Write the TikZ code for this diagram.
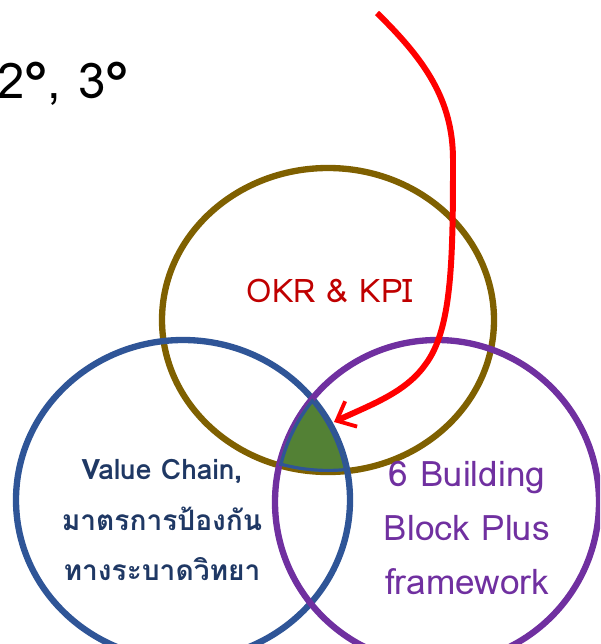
\documentclass[tikz,border=0pt]{standalone}
\usepackage{fontspec}
\setmainfont{Loma}
\newfontfamily\thaifont[Script=Thai]{Loma}
\usepackage{tikz}
\usetikzlibrary{arrows.meta,positioning}

\definecolor{okrbrown}{HTML}{7F6000}
\definecolor{chainblue}{HTML}{2F5597}
\definecolor{chaintext}{HTML}{1F3864}
\definecolor{blockpurple}{HTML}{7030A0}
\definecolor{coregreen}{HTML}{538135}

\begin{document}
\begin{tikzpicture}[
    x=0.02cm, y=-0.02cm,
    ring/.style={line width=3.6pt},
    label/.style={align=center, inner sep=0pt},
    pointer/.style={-{Straight Barb[length=3.2mm, width=5.6mm, line width=2.2pt]}, red, line width=3.4pt}
]
    \useasboundingbox (0,0) rectangle (600,644);
    \clip (0,0) rectangle (600,644);

    % the three rings
    \draw[ring, okrbrown] (328,320) ellipse [x radius=166, y radius=152];
    \draw[ring, chainblue] (183,500) ellipse [x radius=167, y radius=160];
    \draw[ring, blockpurple] (437,502) ellipse [x radius=162, y radius=162];

    % common part of all three
    \begin{scope}
        \clip (328,320) ellipse [x radius=166, y radius=152];
        \clip (183,500) ellipse [x radius=167, y radius=160];
        \clip (437,502) ellipse [x radius=162, y radius=162];
        \fill[coregreen] (0,0) rectangle (600,644);
        \draw[ring, chainblue] (328,320) ellipse [x radius=166, y radius=152];
        \draw[ring, chainblue] (183,500) ellipse [x radius=167, y radius=160];
        \draw[ring, chainblue] (437,502) ellipse [x radius=162, y radius=162];
    \end{scope}

    % texts
    \node[label, anchor=west, font=\fontsize{28}{32}\selectfont] (order) at (-3,84) {2°, 3°};
    \node[label, text=red!75!black, font=\fontsize{18.5}{22}\selectfont] (okr) at (330,291) {OKR \& KPI};
    \node[label, text=chaintext, font=\bfseries\fontsize{16}{29}\selectfont] (chain) at (162,520)
        {Value Chain,\\{\thaifont\bfseries มาตรการป้องกัน}\\{\thaifont\bfseries ทางระบาดวิทยา}};
    \node[label, text=blockpurple, font=\fontsize{20}{31}\selectfont] (block) at (467,528)
        {6 Building\\Block Plus\\framework};

    % arrow into the common part
    \coordinate (start) at (377,13);
    \coordinate (tip) at (334,422);
    \draw[pointer] (start) .. controls (425,60) and (453,100) .. (453,160)
        .. controls (453,260) and (452,330) .. (425,365)
        .. controls (405,393) and (370,405) .. (tip);
\end{tikzpicture}
\end{document}
